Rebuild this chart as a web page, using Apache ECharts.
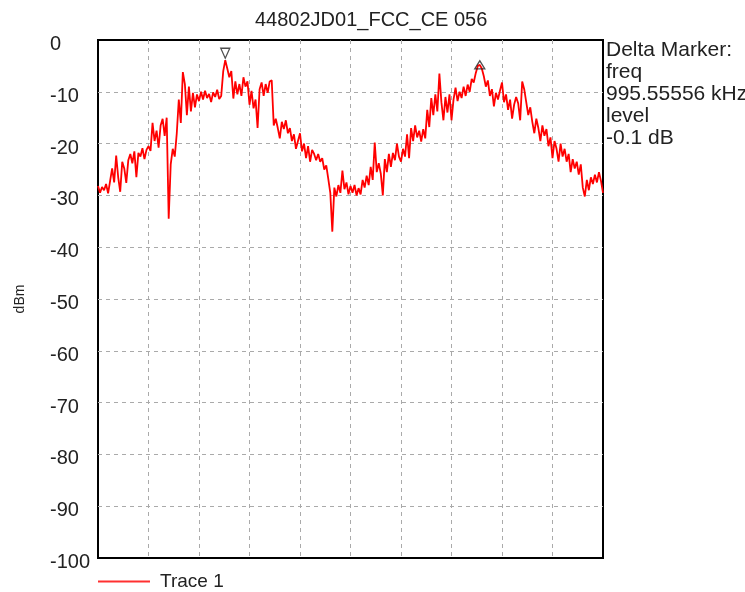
<!DOCTYPE html>
<html>
<head>
<meta charset="utf-8">
<script src="https://cdn.jsdelivr.net/npm/echarts@6/dist/echarts.min.js"></script>
<style>
html,body{margin:0;padding:0;background:#fff;}
#chart{width:745px;height:592px;}
</style>
</head>
<body>
<div id="chart"></div>
<script>
const titleText = '44802JD01_FCC_CE 056';
const seriesName = 'Trace 1';
const yAxisName = 'dBm';
const yTickValues = [0, -10, -20, -30, -40, -50, -60, -70, -80, -90, -100];
const markerLines = ['Delta Marker:', 'freq', '995.55556 kHz', 'level', '-0.1 dB'];
// sweep points (251 points across the span), level in dBm
const trace = [
  -28.2, -29.5, -28.4, -29.0, -27.8, -29.6, -27.2, -24.8, -27.5, -22.3,
  -26.5, -29.3, -23.5, -24.8, -27.6, -23.2, -22.0, -23.8, -21.5, -26.5,
  -21.8, -22.5, -20.9, -23.0, -21.2, -20.5, -21.4, -16.0, -19.5, -17.5,
  -20.8, -16.5, -15.2, -18.5, -15.0, -34.5, -24.0, -21.0, -22.5, -18.0,
  -11.5, -16.0, -6.2, -8.5, -14.5, -9.0, -13.8, -10.2, -13.0, -10.5,
  -11.8, -10.0, -11.5, -9.8, -11.2, -10.4, -12.0, -10.1, -11.0, -9.6,
  -11.4, -10.8, -6.0, -3.9, -5.5, -7.2, -6.0, -11.3, -8.0, -10.5,
  -8.5, -10.8, -7.2, -9.0, -8.0, -12.5, -9.8, -13.2, -11.5, -17.0,
  -9.5, -8.2, -10.8, -8.5, -10.2, -8.0, -7.8, -16.5, -15.2, -17.0,
  -19.0, -15.8, -17.2, -15.5, -18.0, -17.0, -19.5, -18.2, -21.0, -19.5,
  -18.0, -21.5, -20.0, -22.8, -20.5, -23.5, -21.2, -22.0, -23.2, -22.0,
  -23.5, -22.8, -25.0, -24.2, -26.8, -29.5, -37.0, -28.5, -30.2, -28.0,
  -29.5, -25.2, -28.8, -27.5, -29.8, -28.2, -29.5, -28.0, -30.0, -28.6,
  -29.8, -27.0, -28.5, -26.2, -28.0, -24.5, -27.0, -19.8, -25.5, -23.8,
  -25.8, -30.0, -23.0, -25.5, -22.0, -24.5, -21.8, -23.2, -20.0, -22.5,
  -23.5, -21.0, -22.5, -18.2, -22.8, -17.0, -19.5, -16.5, -18.8, -17.5,
  -19.6, -17.2, -19.0, -13.5, -16.8, -11.2, -14.5, -10.5, -13.8, -6.5,
  -12.0, -15.5, -11.0, -14.0, -10.5, -15.5, -11.5, -9.2, -11.8, -10.0,
  -11.2, -9.0, -10.8, -8.6, -10.0, -7.5, -8.2, -6.4, -5.0, -4.8,
  -5.5, -7.0, -9.0, -7.8, -10.8, -9.5, -12.8, -10.2, -11.5, -9.8,
  -8.2, -12.0, -10.5, -13.5, -11.5, -15.2, -12.5, -11.0, -12.2, -15.5,
  -8.0, -9.5, -12.0, -14.5, -13.0, -15.8, -18.0, -15.2, -17.0, -19.5,
  -16.5, -18.5, -17.2, -20.5, -18.8, -22.8, -19.5, -21.0, -23.5, -20.0,
  -22.5, -21.0, -23.5, -22.0, -25.5, -23.0, -24.8, -23.5, -26.0, -24.0,
  -28.5, -30.2, -27.0, -29.0, -26.5, -27.8, -26.0, -27.5, -25.5, -27.2, -29.5
];
const refMarkerIdx = 63;
const deltaMarkerIdx = 189;

const xMax = trace.length - 1;
const lineData = trace.map((v, i) => [i, v]);

const chart = echarts.init(document.getElementById('chart'), null, {renderer: 'canvas'});
const font = 'Liberation Sans, Arial, sans-serif';
const dashed = {color: '#aaaaaa', type: [4, 4], width: 1};
chart.setOption({
  animation: false,
  backgroundColor: '#fff',
  title: {
    text: titleText, left: 250, top: 5,
    textStyle: {fontFamily: font, fontSize: 20, fontWeight: 'normal', color: '#222'}
  },
  grid: {
    left: 98, right: 142, top: 40, bottom: 34,
    show: true, borderColor: '#000', borderWidth: 2, backgroundColor: '#fff'
  },
  legend: {
    left: 98, top: 572, padding: 0,
    itemWidth: 52, itemHeight: 2, itemGap: 10,
    data: [{name: seriesName, icon: 'rect'}],
    textStyle: {fontFamily: font, fontSize: 19, color: '#222', padding: [3, 0, 0, 5]}
  },
  xAxis: {
    type: 'value', min: 0, max: xMax, interval: xMax / 10,
    axisLine: {show: false}, axisTick: {show: false}, axisLabel: {show: false},
    splitLine: {show: true, showMinLine: false, showMaxLine: false, lineStyle: dashed}
  },
  yAxis: {
    type: 'value', min: -100, max: 0, interval: 10,
    name: yAxisName, nameLocation: 'middle', nameRotate: 90, nameGap: 71,
    nameTextStyle: {fontFamily: font, fontSize: 14, color: '#222'},
    axisLine: {show: false}, axisTick: {show: false},
    axisLabel: {
      margin: 48, align: 'left',
      formatter: v => yTickValues.includes(v) ? '{t|' + v + '}' : '',
      rich: {t: {fontFamily: font, fontSize: 20, color: '#222', padding: [9, 0, 0, 0]}}
    },
    splitLine: {show: true, showMinLine: false, showMaxLine: false, lineStyle: dashed}
  },
  series: [
    {
      name: seriesName, type: 'line', data: lineData,
      symbol: 'none', lineStyle: {color: '#ff0000', width: 1.8},
      itemStyle: {color: '#ff3030'}, z: 2
    },
    {
      name: 'ref', type: 'scatter', symbol: 'triangle', symbolRotate: 180,
      symbolSize: [9, 10], symbolOffset: [0, -7],
      data: [[refMarkerIdx, trace[refMarkerIdx]]],
      itemStyle: {color: '#fff', borderColor: '#222', borderWidth: 1.3}, z: 5
    },
    {
      name: 'delta', type: 'scatter', symbol: 'triangle',
      symbolSize: [10, 8], symbolOffset: [0, 0],
      data: [[deltaMarkerIdx, trace[deltaMarkerIdx]]],
      itemStyle: {color: 'rgba(255,255,255,0)', borderColor: '#222', borderWidth: 1.3}, z: 5
    }
  ],
  graphic: [{
    type: 'text', left: 606, top: 39,
    style: {
      text: markerLines.join('\n'), fontFamily: font, fontSize: 21, lineHeight: 22,
      fill: '#222'
    }
  }]
});
</script>
</body>
</html>
